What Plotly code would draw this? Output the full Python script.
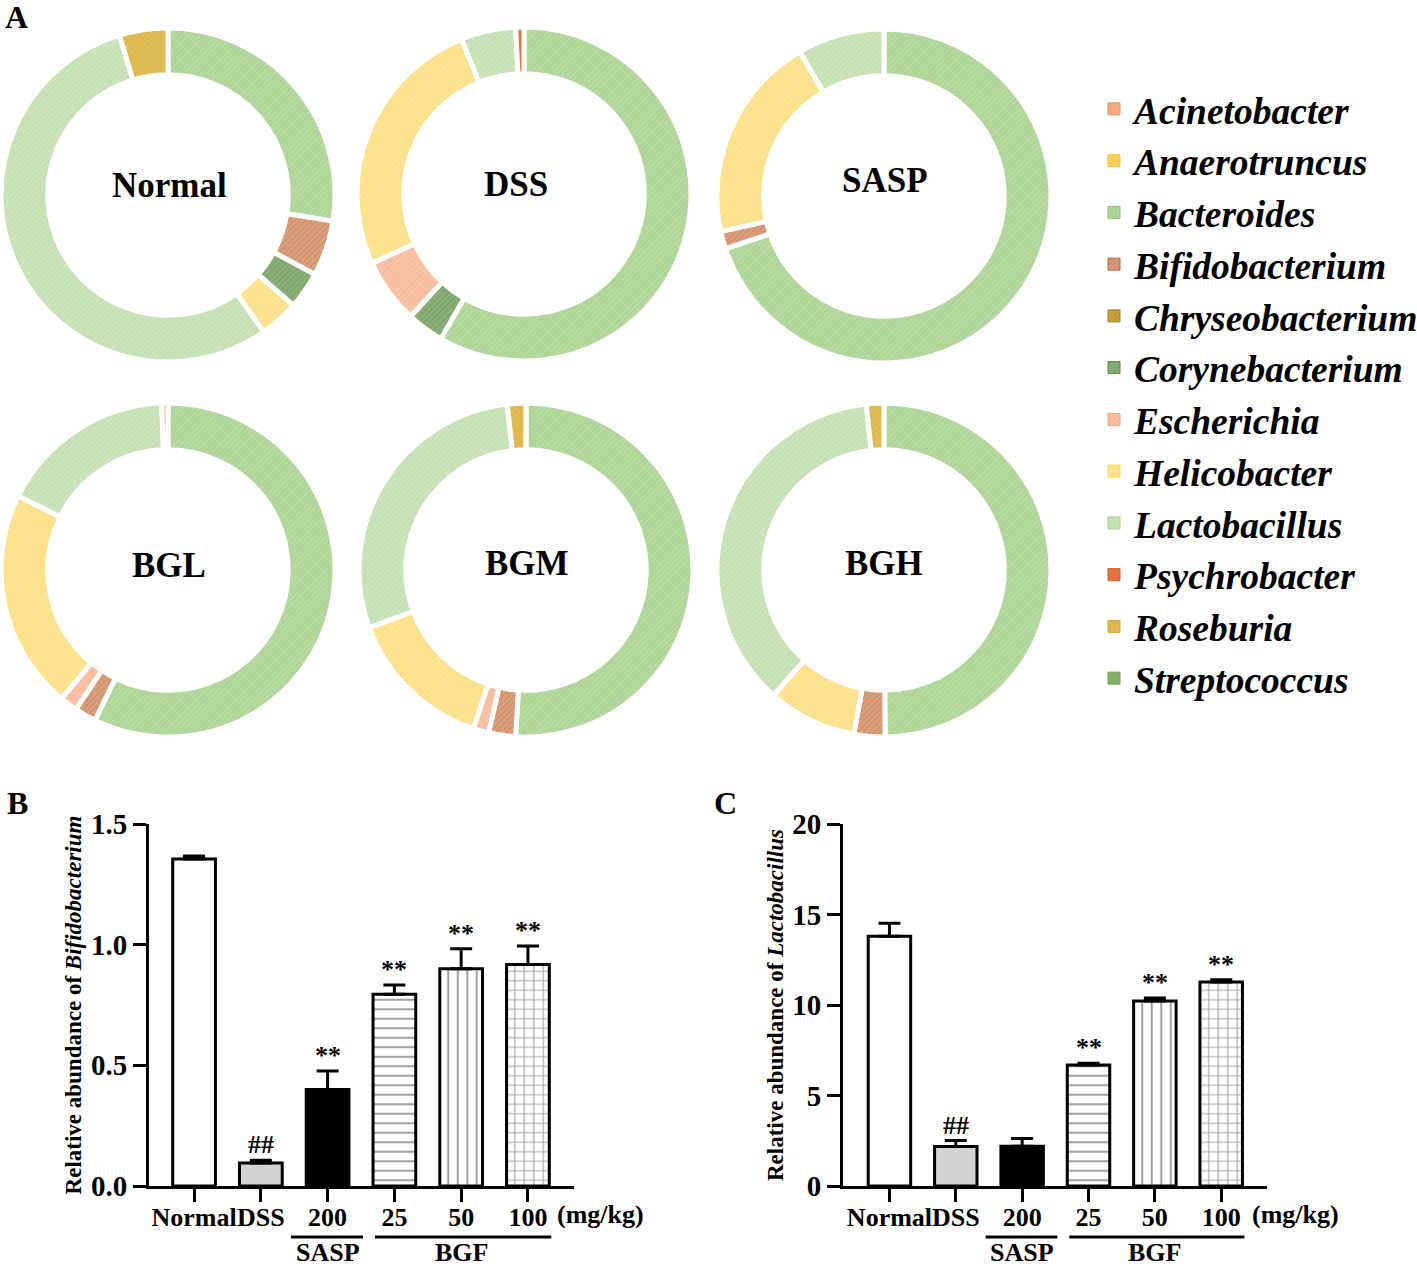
import plotly.graph_objects as go

W, H = 1417, 1267
SERIF = "Liberation Serif"

# ---- panel A: genus composition (% of ring, clockwise from 12 o'clock) ----
genera = ["Acinetobacter", "Anaerotruncus", "Bacteroides", "Bifidobacterium",
          "Chryseobacterium", "Corynebacterium", "Escherichia", "Helicobacter",
          "Lactobacillus", "Psychrobacter", "Roseburia", "Streptococcus"]

fill_colors = ["#F5B08A", "#F9D36A", "#B6D8A1", "#D9A07E",
               "#C9A445", "#8BAF78", "#F8C4A8", "#FDE396",
               "#CBE4BD", "#E4784A", "#E0BC58", "#86B06A"]
edge_colors = ["#EE8F5E", "#F4C233", "#8DC46E", "#B5683E",
               "#A8841C", "#5E8B48", "#F2A27E", "#FAD44E",
               "#A8D08D", "#D85A28", "#D4A428", "#6E9E58"]

groups = ["Normal", "DSS", "SASP", "BGL", "BGM", "BGH"]
normal = [0, 0, 27.5, 5.4, 0, 3.6, 0, 3.8, 55.0, 0, 4.7, 0]
dss = [0, 0, 58.3, 0, 0, 3.6, 6.3, 25.7, 5.3, 0.8, 0, 0]
sasp = [0, 0, 69.9, 1.7, 0, 0, 0, 20.0, 8.4, 0, 0, 0]
bgl = [0, 0, 57.2, 2.1, 0, 0, 1.7, 21.3, 17.1, 0, 0.6, 0]
bgm = [0, 0, 51.0, 2.6, 0, 0, 1.5, 14.3, 28.8, 0, 1.8, 0]
bgh = [0, 0, 49.9, 3.0, 0, 0, 0, 8.6, 36.8, 0, 1.7, 0]
abundance = [normal, dss, sasp, bgl, bgm, bgh]

# ---- panels B and C ----
doses = ["Normal", "DSS", "200", "25", "50", "100"]
bifido_mean = [1.355, 0.095, 0.40, 0.795, 0.90, 0.918]
bifido_err = [0.012, 0.012, 0.077, 0.038, 0.083, 0.076]
bifido_sig = ["", "##", "**", "**", "**", "**"]
lacto_mean = [13.8, 2.18, 2.2, 6.68, 10.22, 11.27]
lacto_err = [0.72, 0.33, 0.42, 0.1, 0.16, 0.12]
lacto_sig = ["", "##", "", "**", "**", "**"]

bar_fill = ["white", "#D3D3D3", "black", "white", "white", "white"]
bar_shape = ["", "", "", "-", "|", "+"]


def px_x(x):
    return x / W


def px_y(y):
    return 1 - y / H


fig = go.Figure()

# donut centres / label spots in pixels
centers = [(168, 195), (524, 194), (884, 196), (168, 570), (526, 570), (884, 570)]
label_pos = [(169, 185), (516, 184), (885, 181), (169, 565), (527, 563), (884, 563)]
R = 167
for name, vals, (cx, cy) in zip(groups, abundance, centers):
    keep = [i for i, v in enumerate(vals) if v > 0]
    fig.add_trace(go.Pie(
        labels=[genera[i] for i in keep],
        values=[vals[i] for i in keep],
        name=name, hole=0.72, sort=False, direction="clockwise", rotation=0,
        marker=dict(colors=[fill_colors[i] for i in keep],
                    line=dict(color="white", width=5),
                    pattern=dict(shape="/", fillmode="overlay", size=4, solidity=0.3,
                                 fgcolor=[edge_colors[i] for i in keep], fgopacity=0.35)),
        textinfo="none", hoverinfo="label+percent", showlegend=False,
        domain=dict(x=[px_x(cx - R), px_x(cx + R)], y=[px_y(cy + R), px_y(cy - R)]),
    ))

# legend entries (hidden axis, so they never draw)
for g, fc, ec in zip(genera, fill_colors, edge_colors):
    fig.add_trace(go.Bar(
        x=[None], y=[None], name=g, xaxis="x3", yaxis="y3",
        marker=dict(color=fc, line=dict(color=ec, width=1),
                    pattern=dict(shape="/", fillmode="overlay", fgcolor=ec, size=4, solidity=0.4)),
    ))


def bar_trace(means, errs, xa, ya):
    return go.Bar(
        x=doses, y=means, xaxis=xa, yaxis=ya, showlegend=False, width=0.64,
        marker=dict(color=bar_fill, line=dict(color="black", width=3),
                    pattern=dict(shape=bar_shape, fgcolor="black", size=9.5, solidity=0.22)),
        error_y=dict(type="data", array=errs, arrayminus=[0] * len(errs), symmetric=False,
                     thickness=3, width=11, color="black"),
    )


fig.add_trace(bar_trace(bifido_mean, bifido_err, "x", "y"))
fig.add_trace(bar_trace(lacto_mean, lacto_err, "x2", "y2"))

axis_common = dict(showline=True, linewidth=3, linecolor="black", ticks="outside",
                   ticklen=13, tickwidth=3, tickcolor="black", showgrid=False,
                   zeroline=False, tickangle=0, automargin=False)
xtick_font = dict(family=SERIF, size=26, weight="bold", color="black")
ytick_font = dict(family=SERIF, size=29, weight="bold", color="black")
ytitle_font = dict(family=SERIF, size=23, weight="bold", color="black")

y0, y1 = px_y(1186), px_y(824)
fig.update_layout(
    width=W, height=H, margin=dict(l=0, r=0, t=0, b=0, autoexpand=False),
    paper_bgcolor="white", plot_bgcolor="white",
    bargap=0.36,
    xaxis=dict(domain=[px_x(149), px_x(574)], range=[-0.675, 5.69], type="category",
               anchor="y", tickfont=xtick_font, ticklabelstandoff=-7, **axis_common),
    yaxis=dict(domain=[y0, y1], range=[0, 1.5], dtick=0.5, tickformat=".1f", anchor="x",
               tickfont=ytick_font,
               title=dict(text="Relative abundance of <i>Bifidobacterium</i>", standoff=3,
                          font=ytitle_font),
               **axis_common),
    xaxis2=dict(domain=[px_x(843), px_x(1267)], range=[-0.70, 5.69], type="category",
                anchor="y2", tickfont=xtick_font, ticklabelstandoff=-7, **axis_common),
    yaxis2=dict(domain=[y0, y1], range=[0, 20], dtick=5, anchor="x2", tickfont=ytick_font,
                title=dict(text="Relative abundance of <i>Lactobacillus</i>", standoff=3,
                           font=ytitle_font),
                **axis_common),
    xaxis3=dict(domain=[0.99, 1], visible=False, anchor="y3"),
    yaxis3=dict(domain=[0.99, 1], visible=False, anchor="x3"),
    legend=dict(x=px_x(1094), y=px_y(78), xanchor="left", yanchor="top",
                font=dict(family=SERIF, size=37.5, weight="bold", style="italic", color="black"),
                bgcolor="rgba(0,0,0,0)", tracegroupgap=0),
    showlegend=True,
)

annotations = []


def note(text, x, y, xref, yref, font, **kw):
    annotations.append(dict(text=text, x=x, y=y, xref=xref, yref=yref, showarrow=False,
                            xanchor="center", yanchor=kw.pop("yanchor", "middle"), font=font, **kw))


# panel letters and donut names
letter_font = dict(family=SERIF, size=32, weight="bold", color="black")
for letter, lx, ly in [("A", 16, 17), ("B", 17, 803), ("C", 725, 803)]:
    note(letter, px_x(lx), px_y(ly), "paper", "paper", letter_font)
donut_font = dict(family=SERIF, size=35, weight="bold", color="black")
for name, (lx, ly) in zip(groups, label_pos):
    note(name, px_x(lx), px_y(ly), "paper", "paper", donut_font)

sig_font = dict(family=SERIF, size=26, weight="bold", color="black")
lab_font = dict(family=SERIF, size=26, weight="bold", color="black")
for xa, ya, means, errs, sigs, unit_x in [("x", "y", bifido_mean, bifido_err, bifido_sig, 600),
                                          ("x2", "y2", lacto_mean, lacto_err, lacto_sig, 1295)]:
    for i, (m, e, s) in enumerate(zip(means, errs, sigs)):
        if s:
            note(s, i, m + e, xa, ya, sig_font, yanchor="bottom", yshift=-1)
    note("(mg/kg)", px_x(unit_x), px_y(1214), "paper", "paper", lab_font)
    # treatment group brackets under the dose labels
    for label, a, b, mid in [("SASP", 1.45, 2.53, 2), ("BGF", 2.71, 5.35, 4)]:
        fig.add_shape(type="line", xref=xa, yref="paper", x0=a, x1=b, y0=px_y(1237), y1=px_y(1237),
                      line=dict(color="black", width=3))
        note(label, mid, px_y(1252), xa, "paper", lab_font)

fig.update_layout(annotations=annotations)
fig.write_html("out.html", config={"displayModeBar": False},
               post_script="document.body.style.margin='0px';")
